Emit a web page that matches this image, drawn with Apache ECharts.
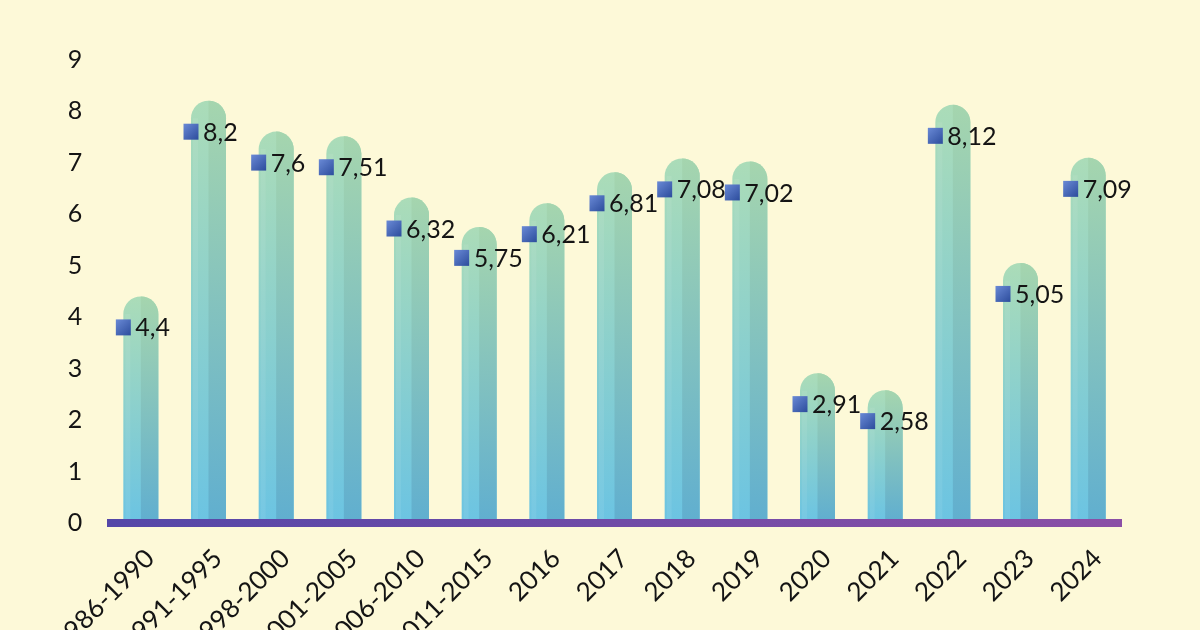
<!DOCTYPE html>
<html>
<head>
<meta charset="utf-8">
<script src="https://cdn.jsdelivr.net/npm/echarts@6/dist/echarts.min.js"></script>
<style>
  html, body { margin: 0; padding: 0; background: #fdf9d8; }
  #chart { width: 1200px; height: 630px; }
</style>
</head>
<body>
<div id="chart"></div>
<script>
const categories = ['1986-1990', '1991-1995', '1998-2000', '2001-2005', '2006-2010', '2011-2015', '2016', '2017', '2018', '2019', '2020', '2021', '2022', '2023', '2024'];
const values = [4.4, 8.2, 7.6, 7.51, 6.32, 5.75, 6.21, 6.81, 7.08, 7.02, 2.91, 2.58, 8.12, 5.05, 7.09];
const valueLabels = ['4,4', '8,2', '7,6', '7,51', '6,32', '5,75', '6,21', '6,81', '7,08', '7,02', '2,91', '2,58', '8,12', '5,05', '7,09'];
const yTicks = [0, 1, 2, 3, 4, 5, 6, 7, 8, 9];

const FONT = 'Lato, "Open Sans", sans-serif';
const chart = echarts.init(document.getElementById('chart'), null, { renderer: 'canvas' });

function grad(c1, c2) {
  return { type: 'linear', x: 0, y: 0, x2: 0, y2: 1, colorStops: [{ offset: 0, color: c1 }, { offset: 1, color: c2 }] };
}

function renderItem(params, api) {
  const idx = api.value(0);
  const val = api.value(1);
  const top = api.coord([idx, val]);
  const base = api.coord([idx, 0]);
  const w = 35, r = w / 2;
  const cx = top[0];
  const x = cx - r;
  const y = top[1];
  const h = base[1] - 4 - y;
  const ly = y + 31;
  return {
    type: 'group',
    children: [
      { type: 'rect', shape: { x: x, y: y, width: w, height: h, r: [r, r, 0, 0] },
        style: { fill: grad('#abdcb8', '#6cc4e2') } },
      { type: 'rect', shape: { x: cx, y: y, width: r, height: h, r: [0, r, 0, 0] },
        style: { fill: grad('#a5d5ae', '#61afcf') } },
      { type: 'rect', shape: { x: x + 2, y: y + r, width: 5, height: h - r },
        style: { fill: 'rgba(255,255,255,0.07)' } },
      { type: 'rect', shape: { x: x - 7.5, y: ly - 8, width: 15, height: 16 },
        style: { fill: { type: 'linear', x: 0, y: 0, x2: 1, y2: 1, colorStops: [{ offset: 0, color: '#6a8ad6' }, { offset: 1, color: '#2c4c9c' }] } } },
      { type: 'text', x: x + 12, y: ly + 1,
        style: { text: valueLabels[idx], fill: '#141414', font: '25px ' + FONT, textAlign: 'left', textVerticalAlign: 'middle' } }
    ]
  };
}

chart.setOption({
  backgroundColor: '#fdf9d8',
  animation: false,
  grid: { left: 107, right: 78, top: 59.5, bottom: 107, outerBoundsMode: 'none', containLabel: false },
  xAxis: {
    type: 'category',
    data: categories,
    boundaryGap: true,
    axisLine: { show: true, lineStyle: { width: 8, cap: 'butt', color: { type: 'linear', x: 107, y: 0, x2: 1122, y2: 0, global: true, colorStops: [{ offset: 0, color: '#5447a8' }, { offset: 1, color: '#8b4fa6' }] } } },
    axisTick: { show: false },
    axisLabel: { rotate: 45, margin: 22, align: 'right', verticalAlign: 'top', color: '#141414', fontSize: 26, fontFamily: FONT, interval: 0 }
  },
  yAxis: {
    type: 'value', min: yTicks[0], max: yTicks[yTicks.length - 1], interval: 1,
    axisLine: { show: false }, axisTick: { show: false }, splitLine: { show: false },
    axisLabel: { margin: 32, align: 'center', color: '#141414', fontSize: 25, fontFamily: FONT,
      formatter: function (v) { return yTicks.indexOf(v) >= 0 ? String(v) : ''; } }
  },
  series: [{
    type: 'custom',
    renderItem: renderItem,
    data: values.map(function (v, i) { return [i, v]; }),
    encode: { x: 0, y: 1 },
    z: 2
  }]
});
</script>
</body>
</html>
